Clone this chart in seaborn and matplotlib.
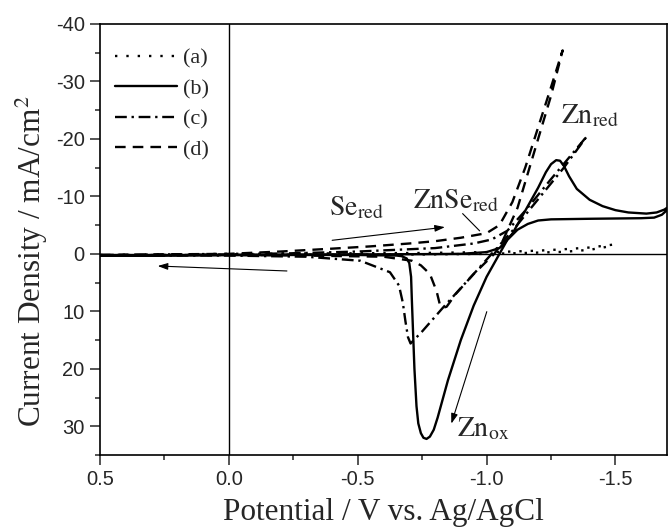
import matplotlib
matplotlib.use("Agg")
import matplotlib.pyplot as plt
import seaborn as sns
import pandas as pd

# ---- data ----
# (a) dotted
a_fwd_x = [0.5, 0.25, 0.0, -0.25, -0.5, -0.75, -1.0, -1.1, -1.2, -1.3, -1.4, -1.49]
a_fwd_y = [0.2, 0.1, 0.0, -0.05, -0.1, -0.15, -0.3, -0.4, -0.55, -0.8, -1.1, -1.6]
a_rev_x = [-1.49, -1.4, -1.3, -1.15, -1.0, -0.75, -0.5, -0.25, 0.0, 0.25, 0.5]
a_rev_y = [-1.4, -0.7, -0.35, -0.15, 0.0, 0.1, 0.15, 0.15, 0.2, 0.2, 0.25]

# (b) solid
b_fwd_x = [0.5, 0.25, 0.0, -0.25, -0.5, -0.75, -0.9, -1.0, -1.05, -1.1, -1.15, -1.2,
           -1.23, -1.25, -1.27, -1.285, -1.3, -1.32, -1.35, -1.4, -1.45, -1.5,
           -1.55, -1.62, -1.66, -1.69, -1.7]
b_fwd_y = [0.3, 0.25, 0.2, 0.15, 0.1, 0.05, 0.0, -0.3, -1.0, -3.5, -7.5, -11.5,
           -14.2, -15.6, -16.3, -16.2, -15.3, -13.5, -11.3, -9.4, -8.3, -7.6,
           -7.2, -7.0, -7.2, -7.7, -8.0]
b_rev_x = [-1.7, -1.68, -1.65, -1.6, -1.4, -1.25, -1.2, -1.16, -1.12, -1.08, -1.05,
           -1.0, -0.95, -0.9, -0.85, -0.81, -0.795, -0.78, -0.767, -0.755, -0.745,
           -0.735, -0.728, -0.72, -0.715, -0.71, -0.707, -0.7, -0.69, -0.67,
           -0.65, -0.5, -0.25, 0.0, 0.25, 0.5]
b_rev_y = [-7.6, -6.8, -6.3, -6.2, -6.1, -6.0, -5.8, -5.2, -4.2, -2.4, 0.0,
           4.0, 9.0, 15.0, 22.0, 28.5, 30.6, 31.8, 32.2, 32.0, 31.2,
           29.5, 26.5, 20.0, 14.0, 8.0, 4.0, 1.6, 0.8, 0.4,
           0.3, 0.2, 0.2, 0.2, 0.25, 0.3]

# (c) dash-dot
c_fwd_x = [0.5, 0.25, 0.0, -0.25, -0.5, -0.65, -0.8, -0.95, -1.02, -1.08, -1.15, -1.25, -1.39]
c_fwd_y = [0.3, 0.2, 0.1, -0.1, -0.4, -0.7, -1.0, -1.8, -2.5, -4.0, -7.5, -13.0, -20.5]
c_rev_x = [-1.39, -1.3, -1.2, -1.1, -1.02, -0.96, -0.83, -0.75, -0.705, -0.695,
           -0.685, -0.675, -0.66, -0.625, -0.51, -0.3, 0.0, 0.25, 0.5]
c_rev_y = [-20.5, -15.0, -9.5, -4.0, 0.0, 3.0, 9.4, 13.5, 15.6, 14.5,
           11.7, 8.5, 5.5, 3.2, 1.2, 0.5, 0.3, 0.3, 0.3]

# (d) dashed
d_fwd_x = [0.5, 0.25, 0.0, -0.2, -0.4, -0.55, -0.7, -0.8, -0.9, -1.0, -1.05, -1.1,
           -1.15, -1.2, -1.25, -1.295]
d_fwd_y = [0.2, 0.1, 0.0, -0.4, -0.9, -1.3, -1.8, -2.2, -2.8, -3.6, -5.0, -9.0,
           -15.0, -22.0, -29.0, -35.4]
d_rev_x = [-1.295, -1.25, -1.2, -1.12, -1.06, -1.03, -0.95, -0.88, -0.845, -0.83,
           -0.818, -0.806, -0.78, -0.745, -0.71, -0.6, -0.3, 0.0, 0.5]
d_rev_y = [-35.4, -27.5, -20.0, -8.0, -2.0, 0.0, 3.5, 7.0, 9.2, 9.4,
           8.7, 6.5, 3.5, 2.0, 1.2, 0.5, 0.3, 0.2, 0.2]

labels = ["(a)", "(b)", "(c)", "(d)"]
x_ticks = [0.5, 0.0, -0.5, -1.0, -1.5]
y_ticks = [-40, -30, -20, -10, 0, 10, 20, 30]

# ---- style ----
sns.set_style("ticks")
plt.rcParams["font.family"] = ["Liberation Sans", "DejaVu Sans"]
plt.rcParams["mathtext.fontset"] = "stix"
serif = ["Liberation Serif", "DejaVu Serif"]

fig = plt.figure(figsize=(6.69, 5.27), dpi=100)
ax = fig.add_axes([0.1495, 0.1366, 0.8475, 0.818])

styles = [
    (0, (1.0, 3.8)),
    "-",
    (0, (5.0, 2.0, 1.0, 2.0)),
    (0, (4.5, 3.0)),
]
curves = [
    (a_fwd_x + a_rev_x, a_fwd_y + a_rev_y),
    (b_fwd_x + b_rev_x, b_fwd_y + b_rev_y),
    (c_fwd_x + c_rev_x, c_fwd_y + c_rev_y),
    (d_fwd_x + d_rev_x, d_fwd_y + d_rev_y),
]
handles = []
for (xs, ys), ls, lab in zip(curves, styles, labels):
    df = pd.DataFrame({"E": xs, "J": ys})
    sns.lineplot(data=df, x="E", y="J", sort=False, estimator=None,
                 color="black", linewidth=1.7, linestyle=ls, ax=ax)
    ln = ax.lines[-1]
    ln.set_linestyle(ls)
    ln.set_label(lab)
    handles.append(ln)

ax.axhline(0, color="black", lw=1.0, zorder=1)
ax.axvline(0, color="black", lw=1.0, zorder=1)

ax.set_xlim(0.5, -1.7)
ax.set_ylim(35, -40)
ax.set_xticks(x_ticks)
ax.set_xticklabels([f"{v:.1f}" for v in x_ticks])
ax.set_yticks(y_ticks)
ax.set_yticklabels([str(v) for v in y_ticks])
ax.xaxis.set_minor_locator(matplotlib.ticker.MultipleLocator(0.25))
ax.yaxis.set_minor_locator(matplotlib.ticker.MultipleLocator(5))
ax.tick_params(axis="both", which="major", direction="out", length=7, width=1.1,
               labelsize=14.5, top=False, right=False, pad=4)
ax.tick_params(axis="both", which="minor", direction="out", length=3.5, width=1.1,
               top=False, right=False)
for s in ax.spines.values():
    s.set_linewidth(1.2)
    s.set_color("black")

ax.set_xlabel("Potential / V vs. Ag/AgCl", fontsize=22.5, family=serif, labelpad=6)
ax.set_ylabel("Current Density / mA/cm$^2$", fontsize=22.5, family=serif)
ax.yaxis.set_label_coords(-0.088, 0.45)

leg = ax.legend(handles=handles, labels=labels, loc="upper left",
                bbox_to_anchor=(0.006, 0.97), frameon=False, borderpad=0,
                handlelength=2.8, handletextpad=0.3, labelspacing=0.45,
                prop={"family": serif, "size": 16})

# annotations
ax.text(-0.496, -8.0, r"$\mathrm{Se_{red}}$", fontsize=20, ha="center", va="center")
ax.text(-0.88, -9.2, r"$\mathrm{ZnSe_{red}}$", fontsize=20, ha="center", va="center")
ax.text(-1.40, -24.0, r"$\mathrm{Zn_{red}}$", fontsize=20, ha="center", va="center")
ax.text(-0.988, 30.5, r"$\mathrm{Zn_{ox}}$", fontsize=20, ha="center", va="center")

arrow_kw = dict(arrowstyle="-|>,head_length=0.6,head_width=0.2", color="black", lw=0.8)
ax.annotate("", xy=(-0.849, -4.7), xytext=(-0.39, -2.3), arrowprops=arrow_kw)
ax.annotate("", xy=(-0.86, 30.0), xytext=(-1.004, 9.6), arrowprops=arrow_kw)
ax.annotate("", xy=(0.287, 2.1), xytext=(-0.236, 3.0), arrowprops=arrow_kw)
ax.plot([-0.907, -0.973], [-7.0, -4.0], color="black", lw=0.8)

fig.savefig("out.png", dpi=100)
